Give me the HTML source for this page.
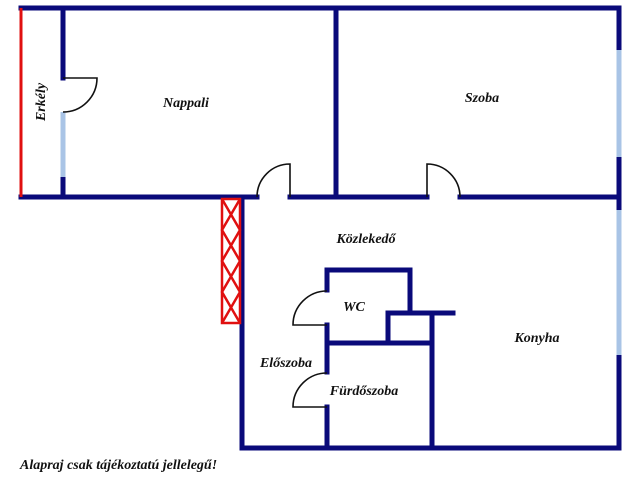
<!DOCTYPE html>
<html><head><meta charset="utf-8"><style>
body{margin:0;background:#fff}
svg{display:block}
text{font-family:"Liberation Serif",serif;font-style:italic;font-weight:bold;font-size:14px;fill:#111}
</style></head><body>
<svg width="640" height="480" viewBox="0 0 640 480">
<g stroke="#0a0a7a" stroke-width="5" stroke-linecap="square" fill="none">
<line x1="21" y1="8" x2="619" y2="8"/>
<line x1="63" y1="8" x2="63" y2="78"/>
<line x1="63" y1="177" x2="63" y2="197"/>
<line x1="21" y1="197" x2="257" y2="197"/>
<line x1="290" y1="197" x2="427" y2="197"/>
<line x1="460" y1="197" x2="619" y2="197"/>
<line x1="336" y1="8" x2="336" y2="197"/>
<line x1="619" y1="8" x2="619" y2="50"/>
<line x1="619" y1="157" x2="619" y2="210"/>
<line x1="619" y1="355" x2="619" y2="448"/>
<line x1="242" y1="197" x2="242" y2="448"/>
<line x1="242" y1="448" x2="619" y2="448"/>
<line x1="327" y1="270" x2="410" y2="270"/>
<line x1="410" y1="270" x2="410" y2="313"/>
<line x1="388" y1="313" x2="453" y2="313"/>
<line x1="388" y1="313" x2="388" y2="343"/>
<line x1="327" y1="343" x2="432" y2="343"/>
<line x1="432" y1="313" x2="432" y2="448"/>
<line x1="327" y1="270" x2="327" y2="290"/>
<line x1="327" y1="325" x2="327" y2="372"/>
<line x1="327" y1="407" x2="327" y2="448"/>
</g>
<g stroke="#a9c4e6" stroke-width="5" fill="none">
<line x1="63" y1="112" x2="63" y2="177"/>
<line x1="619" y1="50" x2="619" y2="157"/>
<line x1="619" y1="210" x2="619" y2="355"/>
</g>
<line x1="21" y1="8" x2="21" y2="197" stroke="#e01010" stroke-width="3"/>
<g stroke="#111" stroke-width="1.6" fill="none">
<path d="M63 78 H97 A34 34 0 0 1 63 112"/>
<path d="M257 197 A33 33 0 0 1 290 164 V197"/>
<path d="M427 197 V164 A33 33 0 0 1 460 197"/>
<path d="M327 291 A34 34 0 0 0 293 325 H327"/>
<path d="M327 373 A34 34 0 0 0 293 407 H327"/>
</g>
<g stroke="#e01010" stroke-width="2.5" fill="none">
<rect x="222" y="199" width="18" height="124"/>
<path d="M222 199 L240 230 L222 261 L240 292 L222 323"/>
<path d="M240 199 L222 230 L240 261 L222 292 L240 323"/>
</g>
<text x="186" y="107" text-anchor="middle">Nappali</text>
<text x="482" y="102" text-anchor="middle">Szoba</text>
<text x="366" y="243" text-anchor="middle">Közlekedő</text>
<text x="354" y="311" text-anchor="middle">WC</text>
<text x="286" y="367" text-anchor="middle">Előszoba</text>
<text x="364" y="395" text-anchor="middle">Fürdőszoba</text>
<text x="537" y="342" text-anchor="middle">Konyha</text>
<text transform="translate(45,102) rotate(-90)" text-anchor="middle">Erkély</text>
<text x="20" y="469" font-size="13">Alapraj csak tájékoztatú jellelegű!</text>
</svg>
</body></html>
